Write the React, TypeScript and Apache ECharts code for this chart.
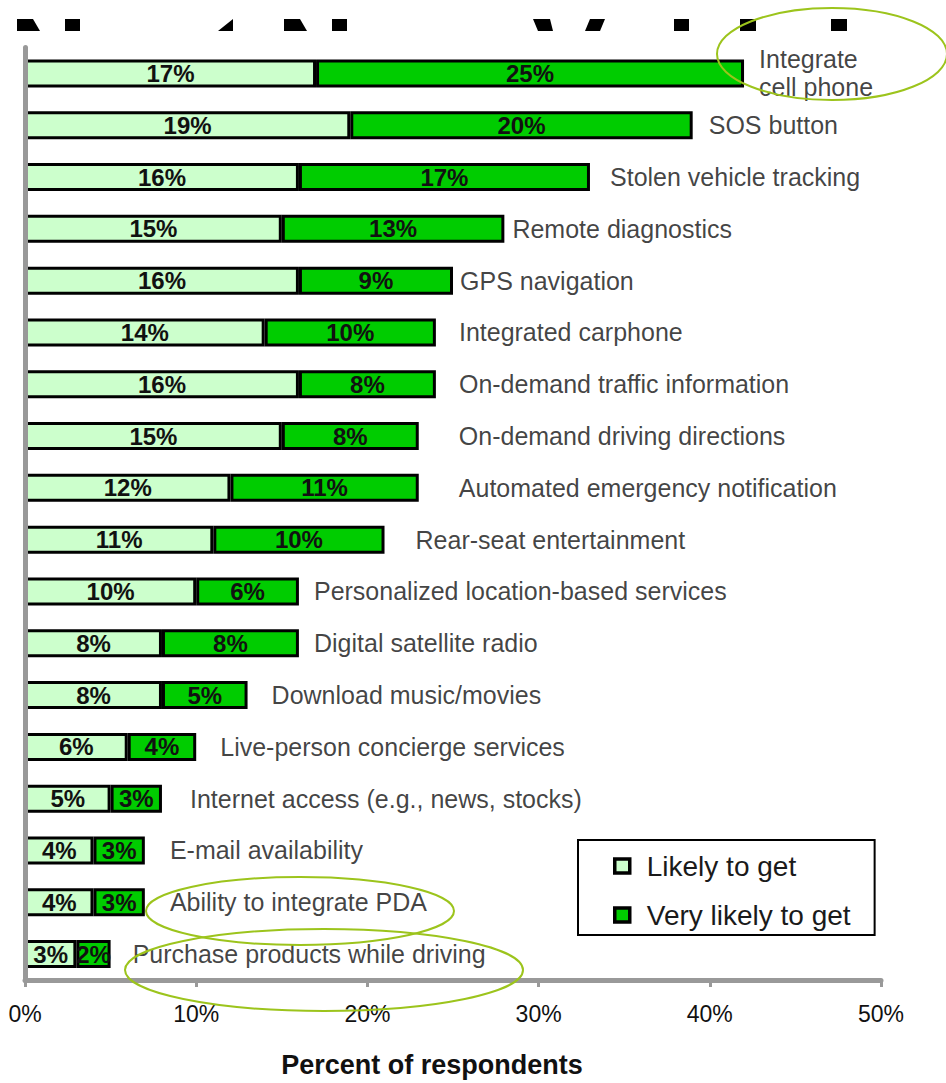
import React, { useEffect, useRef } from "react";
import * as echarts from "echarts";

const categories = [
  "Integrate\ncell phone",
  "SOS button",
  "Stolen vehicle tracking",
  "Remote diagnostics",
  "GPS navigation",
  "Integrated carphone",
  "On-demand traffic information",
  "On-demand driving directions",
  "Automated emergency notification",
  "Rear-seat entertainment",
  "Personalized location-based services",
  "Digital satellite radio",
  "Download music/movies",
  "Live-person concierge services",
  "Internet access (e.g., news, stocks)",
  "E-mail availability",
  "Ability to integrate PDA",
  "Purchase products while driving",
];
const likely = [17, 19, 16, 15, 16, 14, 16, 15, 12, 11, 10, 8, 8, 6, 5, 4, 4, 3];
const veryLikely = [25, 20, 17, 13, 9, 10, 8, 8, 11, 10, 6, 8, 5, 4, 3, 3, 3, 2];
const seriesNames = ["Likely to get", "Very likely to get"];
const axisTitle = "Percent of respondents";

// layout only: gap between bar end and its category label
const labelGap = [15, 16, 20, 8, 7, 23, 23, 40, 40, 31, 15, 15, 24, 24, 28, 25, 25, 22];

const FONT = "'Liberation Sans', Arial, sans-serif";

export default function App() {
  const ref = useRef<HTMLDivElement>(null);
  useEffect(() => {
    if (!ref.current) return;
    const chart = echarts.init(ref.current, null, { renderer: "svg" });
    const labelData = categories.map((c, i) => ({
      value: [likely[i] + veryLikely[i], c],
      label: { distance: labelGap[i] },
    }));
    const frag = (points: number[][]) => ({
      type: "polygon",
      shape: { points },
      style: { fill: "#000" },
      silent: true,
    });
    const ell = (cx: number, cy: number, rx: number, ry: number) => ({
      type: "ellipse",
      shape: { cx, cy, rx, ry },
      style: { fill: "none", stroke: "#9cc41c", lineWidth: 2 },
      z: 100,
      silent: true,
    });
    const valueLabel = {
      show: true,
      position: "inside",
      formatter: "{c}%",
      fontSize: 24,
      fontWeight: "bold",
      color: "#111",
      fontFamily: FONT,
    };
    chart.setOption({
      animation: false,
      backgroundColor: "#fff",
      textStyle: { fontFamily: FONT },
      grid: { left: 25, right: 65, top: 47.5, height: 936, containLabel: false },
      legend: {
        data: seriesNames,
        orient: "vertical",
        left: 578,
        top: 840,
        itemWidth: 15,
        itemHeight: 14,
        itemGap: 19,
        borderColor: "#000",
        borderWidth: 2,
        backgroundColor: "#fff",
        padding: [11, 24, 5, 35],
        icon: "rect",
        itemStyle: { borderColor: "#000", borderWidth: 3.5 },
        textStyle: {
          fontSize: 28,
          color: "#1a1a1a",
          fontFamily: FONT,
          lineHeight: 30,
          padding: [0, 0, 0, 12],
        },
      },
      xAxis: {
        type: "value",
        min: 0,
        max: 50,
        interval: 10,
        name: axisTitle,
        nameLocation: "middle",
        nameGap: 71,
        nameTextStyle: {
          fontSize: 27,
          fontWeight: "bold",
          color: "#111",
          fontFamily: FONT,
          padding: [0, 42, 0, 0],
        },
        axisLine: { show: true, lineStyle: { color: "#999", width: 5 } },
        axisTick: { show: true, length: 7, lineStyle: { color: "#999", width: 3 } },
        axisLabel: {
          formatter: "{value}%",
          fontSize: 23,
          color: "#111",
          margin: 22,
          fontFamily: FONT,
        },
        splitLine: { show: false },
      },
      yAxis: {
        type: "category",
        data: categories,
        inverse: true,
        z: 3,
        axisLine: { show: true, lineStyle: { color: "#999", width: 5 } },
        axisTick: { show: false },
        axisLabel: { show: false },
        splitLine: { show: false },
      },
      series: [
        {
          name: seriesNames[0],
          type: "bar",
          stack: "total",
          data: likely,
          barWidth: 28,
          itemStyle: { color: "#ccffcc", borderColor: "#000", borderWidth: 3 },
          label: valueLabel,
        },
        {
          name: seriesNames[1],
          type: "bar",
          stack: "total",
          data: veryLikely,
          barWidth: 28,
          itemStyle: { color: "#00cc00", borderColor: "#000", borderWidth: 3 },
          label: valueLabel,
        },
        {
          name: "labels",
          type: "scatter",
          data: labelData,
          symbolSize: 0.1,
          itemStyle: { color: "rgba(0,0,0,0)" },
          label: {
            show: true,
            position: "right",
            formatter: (p: any) => p.value[1],
            fontSize: 25,
            lineHeight: 28,
            color: "#111",
            fontFamily: FONT,
          },
          z: 5,
        },
      ],
      graphic: [
        frag([[17, 19], [33, 19], [40, 31], [17, 31]]),
        frag([[65, 19], [80, 19], [80, 31], [65, 31]]),
        frag([[218, 31], [233, 19], [233, 31]]),
        frag([[284, 19], [300, 19], [307, 31], [284, 31]]),
        frag([[332, 19], [347, 19], [347, 31], [332, 31]]),
        frag([[533, 19], [550, 19], [553, 31], [538, 31]]),
        frag([[590, 19], [605, 19], [600, 31], [585, 31]]),
        frag([[674, 19], [689, 19], [689, 31], [674, 31]]),
        frag([[740, 19], [756, 19], [756, 31], [740, 31]]),
        frag([[831, 19], [847, 19], [847, 31], [831, 31]]),
        ell(832, 54, 115, 46),
        ell(300, 911, 154, 34),
        ell(324, 970, 199, 41),
      ],
    });
    return () => chart.dispose();
  }, []);
  return (
    <div
      ref={ref}
      style={{ position: "fixed", left: 0, top: 0, width: 946, height: 1083 }}
    />
  );
}
